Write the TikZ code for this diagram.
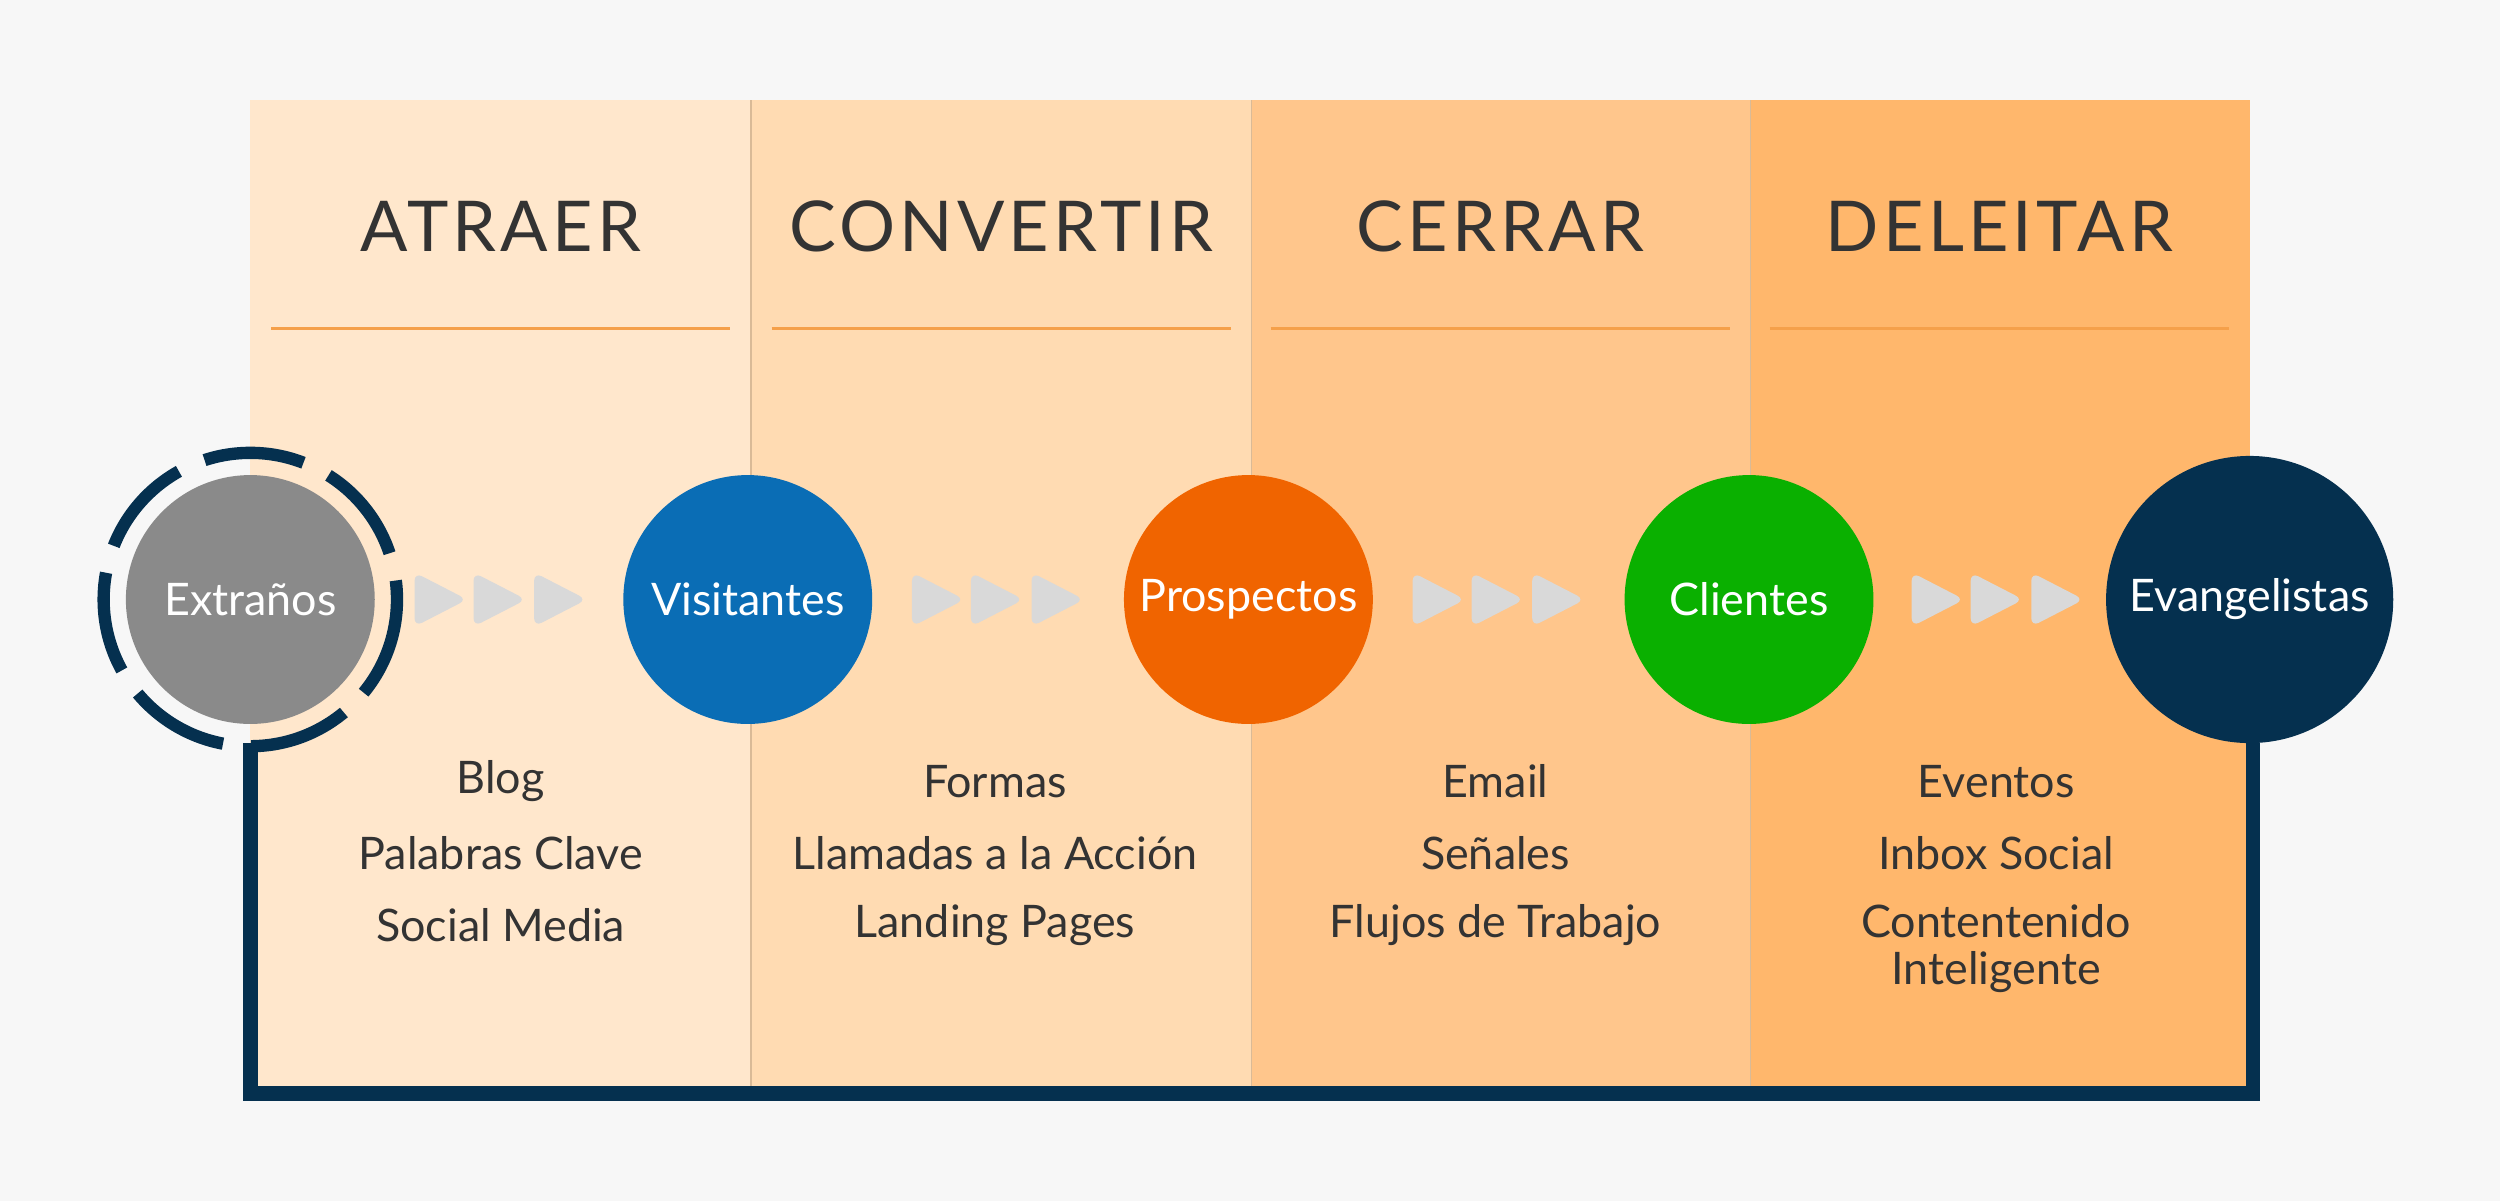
\documentclass[tikz,border=0pt]{standalone}
\usepackage{fontspec}
\setmainfont{Lato}
\definecolor{bg}{HTML}{F7F7F7}
\definecolor{c1}{HTML}{FFE7CC}
\definecolor{c2}{HTML}{FFDBB2}
\definecolor{c3}{HTML}{FFC68C}
\definecolor{c4}{HTML}{FFB76C}
\definecolor{navy}{HTML}{05304F}
\definecolor{blu}{HTML}{0A6DB5}
\definecolor{ora}{HTML}{F06400}
\definecolor{grn}{HTML}{0AB000}
\definecolor{gry}{HTML}{8A8A8A}
\definecolor{txt}{HTML}{333333}
\definecolor{rule}{HTML}{F5A04A}
\begin{document}
\begin{tikzpicture}[x=0.01cm,y=-0.01cm,
  head/.style={font=\fontsize{12.5}{14}\selectfont\addfontfeature{LetterSpace=6},text=txt},
  item/.style={font=\fontsize{8}{9}\selectfont,text=txt,align=center},
  circ/.style={circle,minimum size=1.56cm,inner sep=0pt,text=white,font=\fontsize{8}{9}\selectfont},
  tri/.style={fill=gray!30,draw=none}]
\useasboundingbox (0,0) rectangle (1568,753);
\fill[bg] (0,0) rectangle (1568,753);
\fill[c1] (157,63) rectangle (471,688);
\fill[c2] (471,63) rectangle (785,688);
\fill[c3] (785,63) rectangle (1098,688);
\fill[c4] (1098,63) rectangle (1411,688);
\draw[c2!85!black,line width=0.3pt] (471,63)--(471,688) (785,63)--(785,688) (1098,63)--(1098,688);
\foreach \x/\t in {314/ATRAER,628/CONVERTIR,941/CERRAR,1254/DELEITAR}{
  \node[head] (h\t) at (\x,142) {\t};
  \draw[rule,line width=0.5pt] (\x-144,206)--(\x+144,206);
}
\node[item] (l1) at (314,490) {Blog}; \node[item] (l2) at (314,535) {Palabras Clave}; \node[item] (l3) at (314,580) {Social Media};
\node[item] (m1) at (624,490) {Formas}; \node[item] (m2) at (624,535) {Llamadas a la Acción}; \node[item] (m3) at (624,580) {Landing Pages};
\node[item] (n1) at (938,490) {Email}; \node[item] (n2) at (938,535) {Señales}; \node[item] (n3) at (938,580) {Flujos de Trabajo};
\node[item] (o1) at (1252,490) {Eventos}; \node[item] (o2) at (1252,535) {Inbox Social}; \node[item,font=\fontsize{8}{8.5}\selectfont] (o3) at (1252,595) {Contentenido\\Inteligente};
% frame
\coordinate (fa) at (157,466); \coordinate (fb) at (1413,466);
\draw[navy,line width=2.6pt] (fa)--(157,686)--(1413,686)--(fb);
% circles
\draw[navy,line width=2.2pt,dash pattern=on 18pt off 5pt] (157,376) circle[radius=92];
\node[circ,fill=gry] (e) at (157,376) {Extraños};
\node[circ,fill=blu] (v) at (469,376) {Visitantes};
\node[circ,fill=ora] (p) at (783,376) {Prospectos};
\node[circ,fill=grn] (c) at (1097,376) {Clientes};
\node[circ,fill=navy,minimum size=1.8cm] (ev) at (1411,376) {Evangelistas};
\foreach \s in {260,572,886,1199}{
  \foreach \d in {0,37,75}{
    \fill[tri,rounded corners=1.5pt] (\s+\d,359)--(\s+\d+33,376)--(\s+\d,393)--cycle;
  }
}
\end{tikzpicture}
\end{document}
